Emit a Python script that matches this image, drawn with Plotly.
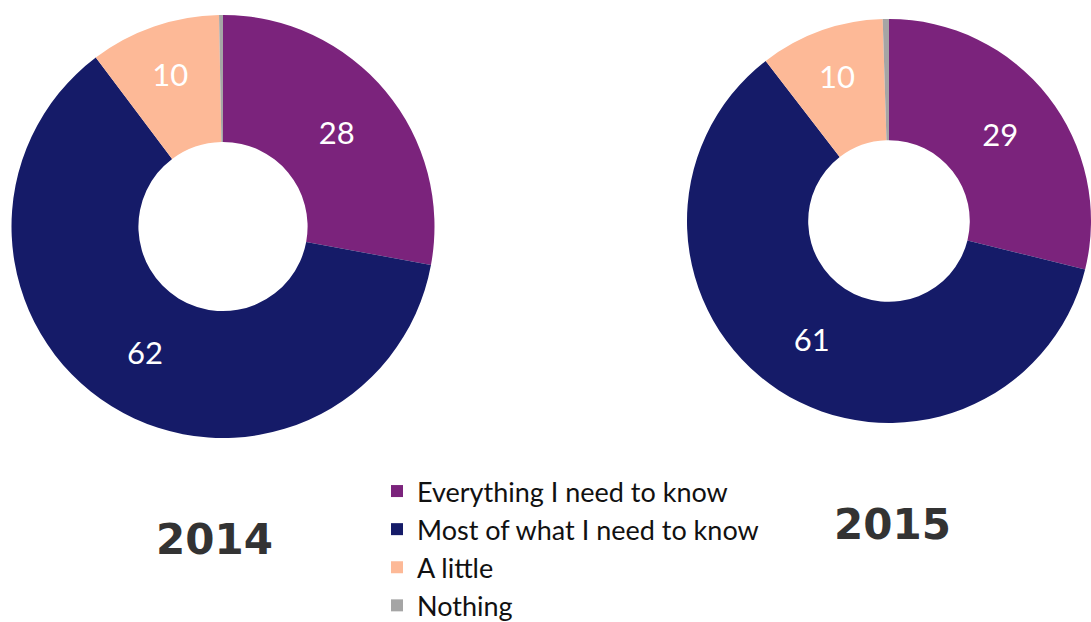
import plotly.graph_objects as go

# Survey answers: how much people feel they know
categories = ["Everything I need to know", "Most of what I need to know", "A little", "Nothing"]
values_2014 = [28, 62, 10, 0.3]
values_2015 = [29, 61, 10, 0.5]
years = ["2014", "2015"]

colors = ["#7B237C", "#151B68", "#FDB997", "#A5A5A5"]

W, H = 1091, 622

def px_dom(x0, x1, top, bottom):
    return dict(x=[x0 / W, x1 / W], y=[(H - bottom) / H, (H - top) / H])

# show the numbers on the three larger slices only
text_tpl = ["%{value}", "%{value}", "%{value}", ""]

common = dict(
    labels=categories,
    hole=0.4,
    sort=False,
    direction="clockwise",
    rotation=0,
    marker=dict(colors=colors, line=dict(width=0)),
    texttemplate=text_tpl,
    textposition="inside",
    insidetextorientation="horizontal",
    textfont=dict(family="Lato, sans-serif", size=31, color="white"),
    hoverinfo="label+value",
)

fig = go.Figure()
fig.add_trace(go.Pie(values=values_2014, name=years[0],
                     domain=px_dom(11.5, 434.5, 15, 438), **common))
fig.add_trace(go.Pie(values=values_2015, name=years[1],
                     domain=px_dom(687, 1091, 19, 423), **common))

title_font = dict(family="DejaVu Sans, sans-serif", size=42, color="#333333")
fig.add_annotation(text="<b>%s</b>" % years[0], x=215 / W, y=(H - 539) / H,
                   xref="paper", yref="paper", showarrow=False, font=title_font,
                   xanchor="center", yanchor="middle")
fig.add_annotation(text="<b>%s</b>" % years[1], x=892 / W, y=(H - 524) / H,
                   xref="paper", yref="paper", showarrow=False, font=title_font,
                   xanchor="center", yanchor="middle")

fig.update_layout(
    width=W, height=H,
    margin=dict(l=0, r=0, t=0, b=0, autoexpand=False),
    paper_bgcolor="white",
    plot_bgcolor="white",
    showlegend=True,
    legend=dict(
        x=377 / W, y=(H - 467) / H, xanchor="left", yanchor="top",
        font=dict(family="Lato, sans-serif", size=27, color="#111111"),
        bgcolor="rgba(0,0,0,0)",
        tracegroupgap=0,
        itemclick=False,
    ),
)

fig.write_html("out.html")
